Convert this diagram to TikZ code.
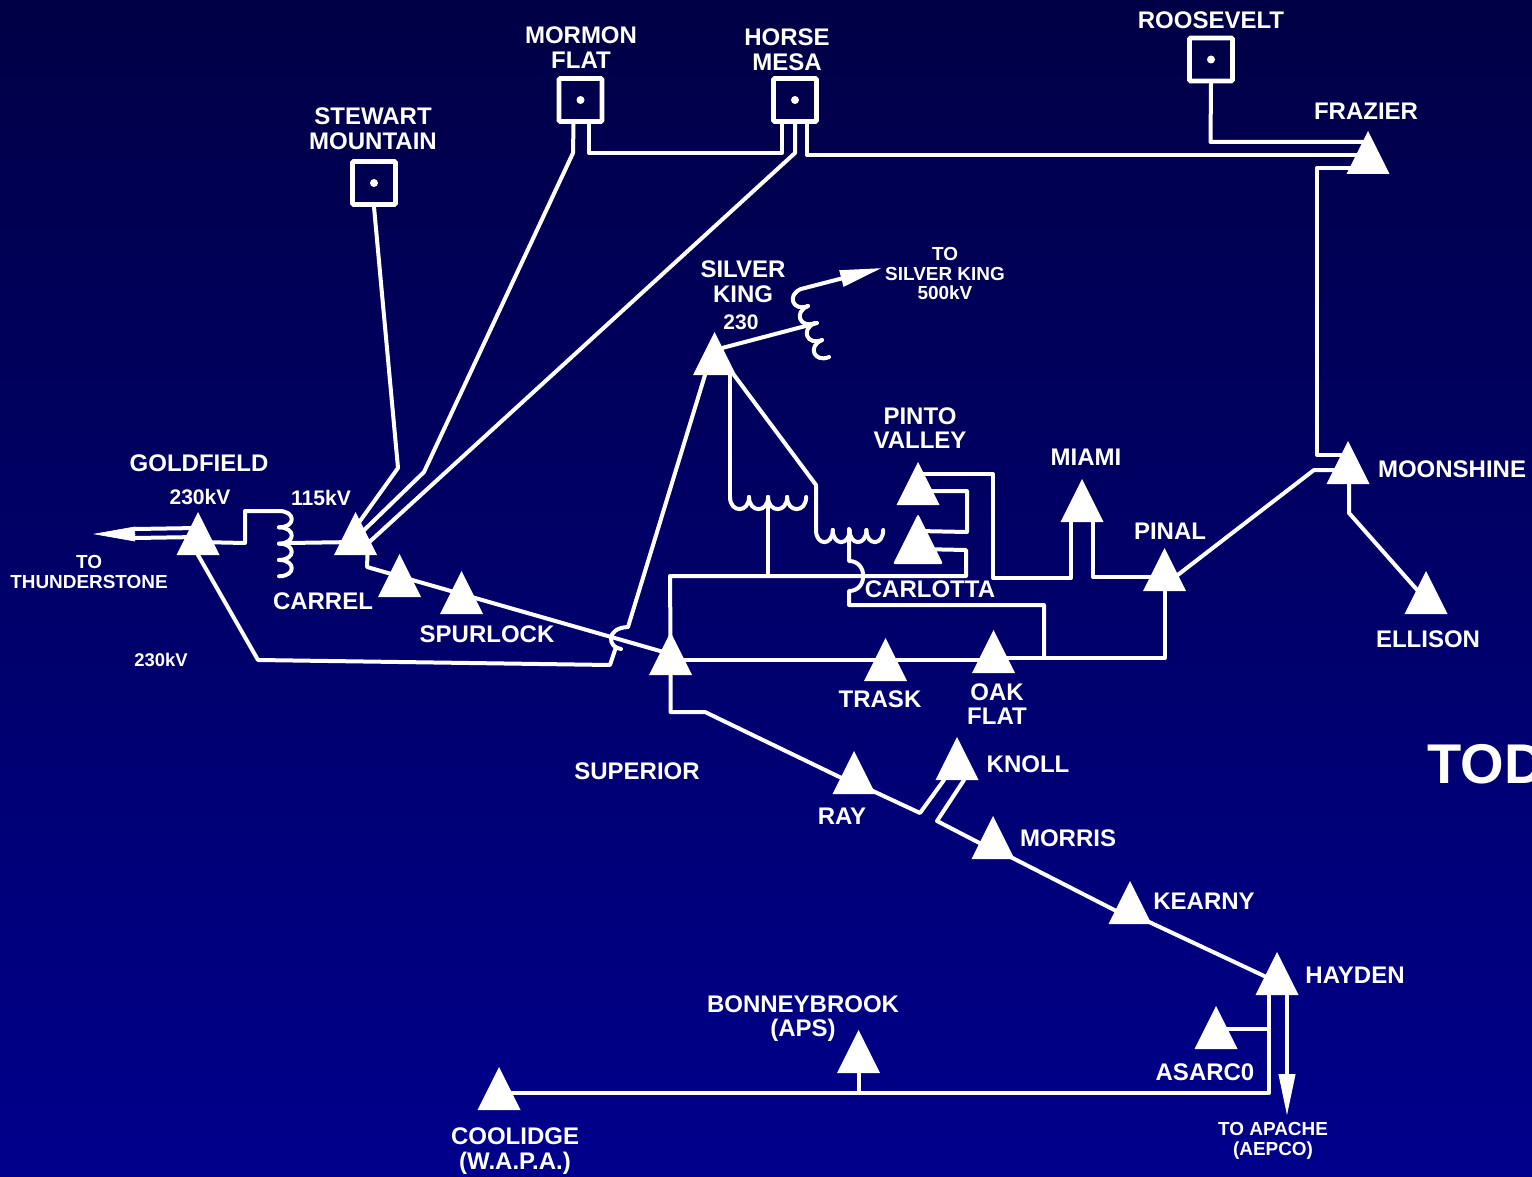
\documentclass[tikz,border=0pt]{standalone}
\usepackage{xcolor}
\usepackage{fontspec}
\setmainfont{Liberation Sans}
\usetikzlibrary{shapes.geometric,arrows.meta,calc}
\definecolor{skytop}{RGB}{0,0,70}
\definecolor{skybottom}{RGB}{0,0,140}

\begin{document}
\begin{tikzpicture}[
  x=0.75pt, y=-0.75pt,
  stn/.style={isosceles triangle, shape border rotate=90,
              isosceles triangle apex angle=53, isosceles triangle stretches,
              fill=white, inner sep=0pt, outer sep=0pt, anchor=apex, yshift=0.75pt,
              minimum width=#1, minimum height=#1},
  stn/.default=32.25pt,
  plant/.style={rectangle, draw=white, line width=3.6pt, inner sep=0pt,
                minimum size=32.25pt, rounded corners=1pt},
  dot/.style={circle, fill=white, inner sep=0pt, minimum size=6pt},
  lbl/.style={text=white, align=center, inner sep=0pt,
              font=\fontsize{18}{18.4}\selectfont\bfseries},
  kvlbl/.style={lbl, font=\fontsize{15.8}{16}\selectfont\bfseries},
  tolbl/.style={lbl, font=\fontsize{14.2}{14.6}\selectfont\bfseries},
  wire/.style={draw=white, line width=3pt, line join=round, line cap=round},
  fwd/.style={wire, -{Stealth[length=31.5pt, width=12pt, inset=0pt]}},
  coil/.pic={
    \foreach \k in {0,...,3}
      \draw[wire] (0,16*\k) .. controls +(17,0) and +(17,0) .. +(0,16);
  }
]
  \useasboundingbox (0,0) rectangle (1532,1177);
  \shade[top color=skytop, bottom color=skybottom] (0,0) rectangle (1532,1177);

  \node[plant] (stewart)   at (374,183)   {};
  \node[plant] (mormon)    at (580.5,100) {};
  \node[plant] (horse)     at (795,100)   {};
  \node[plant] (roosevelt) at (1211,59.5) {};
  \node[dot] (stewartdot)   at (stewart)   {};
  \node[dot] (mormondot)    at (mormon)    {};
  \node[dot] (horsedot)     at (horse)     {};
  \node[dot] (rooseveltdot) at (roosevelt) {};

  \node[stn] (goldfield)   at (198,513)   {};
  \node[stn] (carrel)      at (355.5,513) {};
  \node[stn] (carrelb)     at (399.5,555) {};
  \node[stn] (spurlock)    at (461.5,572) {};
  \node[stn] (superior)    at (670.5,633) {};
  \node[stn] (trask)       at (885.5,639) {};
  \node[stn] (oakflat)     at (993.5,631) {};
  \node[stn] (silverking)  at (714.5,333) {};
  \node[stn] (pinto)       at (918,463)   {};
  \node[stn=37.5pt, rounded corners=1.5pt] (carlotta) at (918,515) {};
  \node[stn] (miami)       at (1082,480)  {};
  \node[stn] (pinal)       at (1164.5,549) {};
  \node[stn] (moonshine)   at (1348,442)  {};
  \node[stn] (ellison)     at (1426,572)  {};
  \node[stn] (frazier)     at (1368,132)  {};
  \node[stn] (ray)         at (854,752)   {};
  \node[stn] (knoll)       at (957,738)   {};
  \node[stn] (morris)      at (993,817)   {};
  \node[stn] (kearny)      at (1130,882)  {};
  \node[stn] (hayden)      at (1277,953)  {};
  \node[stn] (asarco)      at (1216,1007) {};
  \node[stn] (bonneybrook) at (858.5,1031) {};
  \node[stn] (coolidge)    at (499,1068)  {};

  \coordinate (gfcoil)   at (279,511);
  \coordinate (gftap)    at (288,543);
  \coordinate (skcoil)   at (801,289);
  \coordinate (sktap)    at (817,323);
  \coordinate (skhead)   at (882,268);
  \coordinate (coila)    at (730,497);
  \coordinate (coilatap) at (768,497);
  \coordinate (busa)     at (768,576);
  \coordinate (coilb)    at (816,530);
  \coordinate (coilbtap) at (849,529);
  \coordinate (ptap)     at (1044,658);
  \coordinate (asarcotap) at (1269,1029);
  \coordinate (bonntap)  at (858.5,1093);
  \coordinate (apachetip) at (1287,1116);
  \coordinate (thunderbase) at (135,534);
  \coordinate (thundertip)  at (93,534);

  \draw[wire] (stewart.south) -- (398,468) -- ($(carrel.lower side)+(-5.5,-20)$);
  \draw[wire] ($(mormon.south)+(-7,0)$) -- (573,153) -- (424,472) -- ($(carrel.lower side)+(1.5,-18)$);
  \draw[wire] ($(mormon.south)+(8.5,0)$) -- (589,153) -- (782,153) -- ($(horse.south)+(-13,0)$);
  \draw[wire] (horse.south) -- (795,153) -- ($(carrel.lower side)+(9.5,-9)$);
  \draw[wire] ($(horse.south)+(12,0)$) -- (807,155) -- ($(frazier.lower side)+(0,-19)$);
  \draw[wire] (roosevelt.south) -- (1210.5,142) -- ($(frazier.lower side)+(0,-32)$);
  \draw[wire] ($(frazier.lower side)+(0,-6)$) -- (1317,168) -- (1317,455) -- ($(moonshine.lower side)+(0,-29)$);
  \draw[wire] ($(moonshine.lower side)+(0,-14)$) -- (1314,470) -- ($(pinal.lower side)+(1.5,-7)$);
  \draw[wire] ($(moonshine.lower side)+(1,0)$) -- (1349,513) -- ($(ellison.lower side)+(0,-14)$);
  \draw[wire] (pinal.lower side) -- (1164.5,658) -- ($(oakflat.lower side)+(0,-15)$);
  \draw[wire] ($(pinal.lower side)+(0,-14)$) -- (1093,577) -- ($(miami.lower side)+(11,0)$);
  \draw[wire] ($(miami.lower side)+(-11,0)$) -- (1071,578) -- (993,578) -- (993,474) -- ($(pinto.lower side)+(0,-31)$);
  \draw[wire] ($(pinto.lower side)+(0,-14)$) -- (967,491) -- (967,532) -- ($(carlotta.lower side)+(0,-33)$);
  \draw[wire] ($(carlotta.lower side)+(0,-15)$) -- (966,550) -- (966,576) -- (670,576) -- ($(superior.lower side)+(0,-35)$);

  \draw[wire] ($(silverking.lower side)+(15.5,0)$) -- (coila);
  \pic[rotate=90, xscale=-0.95, yscale=1.19] at (coila) {coil};
  \draw[wire] (coilatap) -- (busa);
  \draw[wire] ($(silverking.lower side)+(19.5,0)$) -- (816,485) -- (coilb);
  \pic[rotate=90, xscale=-0.95, yscale=1.05] at (coilb) {coil};
  \draw[wire] (coilbtap) -- (849,561) .. controls (868,561) and (868,591) .. (849,591) -- (849,605) -- (1044,605) -- (ptap);

  \draw[wire] ($(silverking.lower side)+(0,-25)$) -- (sktap);
  \pic[rotate=22.4, xscale=-0.95, yscale=1.15] at (skcoil) {coil};
  \draw[fwd] (skcoil) -- (skhead);

  \draw[wire] ($(silverking.lower side)+(-9.5,0)$) -- (628,627) .. controls (605,628) and (608,648) .. (621,649);
  \draw[wire] (616,647) -- (610,665) -- (258,660) -- (goldfield.lower side);
  \draw[wire] ($(carrel.lower side)+(12,0)$) -- (367,567) -- ($(superior.lower side)+(0,-21)$);

  \draw[wire] ($(superior.lower side)+(0,-15)$) -- ($(trask.lower side)+(0,-21)$) -- ($(oakflat.lower side)+(0,-13)$);
  \draw[wire] (superior.lower side) -- (670.5,712) -- (705,712) -- ($(ray.lower side)+(0,-10)$);
  \draw[wire] ($(ray.lower side)+(6,-9)$) -- (920,813) -- ($(knoll.lower side)+(-13,0)$);
  \draw[wire] ($(knoll.lower side)+(7,0)$) -- (937,821) -- ($(morris.lower side)+(0,-9)$);
  \draw[wire] ($(morris.lower side)+(0,-11)$) -- ($(kearny.lower side)+(0,-6)$);
  \draw[wire] ($(kearny.lower side)+(0,-11)$) -- ($(hayden.lower side)+(0,-13)$);

  \draw[wire] ($(hayden.lower side)+(-8,0)$) -- (1269,1093) -- ($(coolidge.lower side)+(0,-17)$);
  \draw[wire] ($(asarco.lower side)+(0,-20)$) -- (asarcotap);
  \draw[wire] (bonneybrook.lower side) -- (bonntap);
  \draw[fwd] ($(hayden.lower side)+(10,0)$) -- (apachetip);

  \draw[wire] ($(goldfield.lower side)+(0,-13)$) -- (245,543) -- (245,511) -- (gfcoil);
  \pic[yscale=1.02] at (gfcoil) {coil};
  \draw[wire] (gftap) -- ($(carrel.lower side)+(0,-13)$);
  \draw[wire] ($(goldfield.lower side)+(0,-27)$) -- (135,529);
  \draw[wire] ($(goldfield.lower side)+(0,-18)$) -- (135,538);
  \draw[fwd, line width=0.5pt, -{Stealth[length=31.5pt, width=11pt, inset=0pt]}] (thunderbase) -- (thundertip);

  \node[lbl] (goldfieldlbl) at (199,463) {GOLDFIELD};
  \node[kvlbl] (gfkv) at (200,497) {230kV};
  \node[kvlbl] (carrelkv) at (321,498) {115kV};
  \node[tolbl] (thunderlbl) at (89,572) {TO\\THUNDERSTONE};
  \node[lbl] (carrellbl) at (323,601.5) {CARREL};
  \node[lbl] (spurlocklbl) at (487,634) {SPURLOCK};
  \node[kvlbl, font=\fontsize{13.8}{14}\selectfont\bfseries] (lowkv) at (161,660) {230kV};
  \node[lbl] (stewartlbl) at (373,129) {STEWART\\MOUNTAIN};
  \node[lbl] (mormonlbl) at (581,47.5) {MORMON\\FLAT};
  \node[lbl] (horselbl) at (787,49.5) {HORSE\\MESA};
  \node[lbl] (rooseveltlbl) at (1211,20) {ROOSEVELT};
  \node[lbl] (frazierlbl) at (1366,111) {FRAZIER};
  \node[lbl] (silverlbl) at (743,282) {SILVER\\KING};
  \node[kvlbl] (silverkv) at (741,322) {230};
  \node[tolbl] (skto) at (945,273.5) {TO\\SILVER KING\\500kV};
  \node[lbl] (pintolbl) at (920,428) {PINTO\\VALLEY};
  \node[lbl] (miamilbl) at (1086,457) {MIAMI};
  \node[lbl] (pinallbl) at (1170,531) {PINAL};
  \node[lbl] (moonshinelbl) at (1452,469) {MOONSHINE};
  \node[lbl] (ellisonlbl) at (1428,639) {ELLISON};
  \node[lbl] (carlottalbl) at (930,589) {CARLOTTA};
  \node[lbl] (trasklbl) at (880,699) {TRASK};
  \node[lbl] (oakflatlbl) at (997,704) {OAK\\FLAT};
  \node[lbl] (superiorlbl) at (637,771) {SUPERIOR};
  \node[lbl] (raylbl) at (842,816) {RAY};
  \node[lbl] (knolllbl) at (1028,764) {KNOLL};
  \node[lbl] (morrislbl) at (1068,838) {MORRIS};
  \node[lbl] (kearnylbl) at (1204,901) {KEARNY};
  \node[lbl] (haydenlbl) at (1355,975) {HAYDEN};
  \node[lbl] (bonneylbl) at (803,1018.5) {BONNEYBROOK\\(APS)};
  \node[lbl] (asarcolbl) at (1205,1072) {ASARC0};
  \node[tolbl] (apachelbl) at (1273,1141) {TO APACHE\\(AEPCO)};
  \node[lbl] (coolidgelbl) at (515,1151) {COOLIDGE\\(W.A.P.A.)};
  \node[lbl, font=\fontsize{42}{42}\selectfont\bfseries, anchor=west] (todlbl) at (1427,764) {TOD};
\end{tikzpicture}
\end{document}
